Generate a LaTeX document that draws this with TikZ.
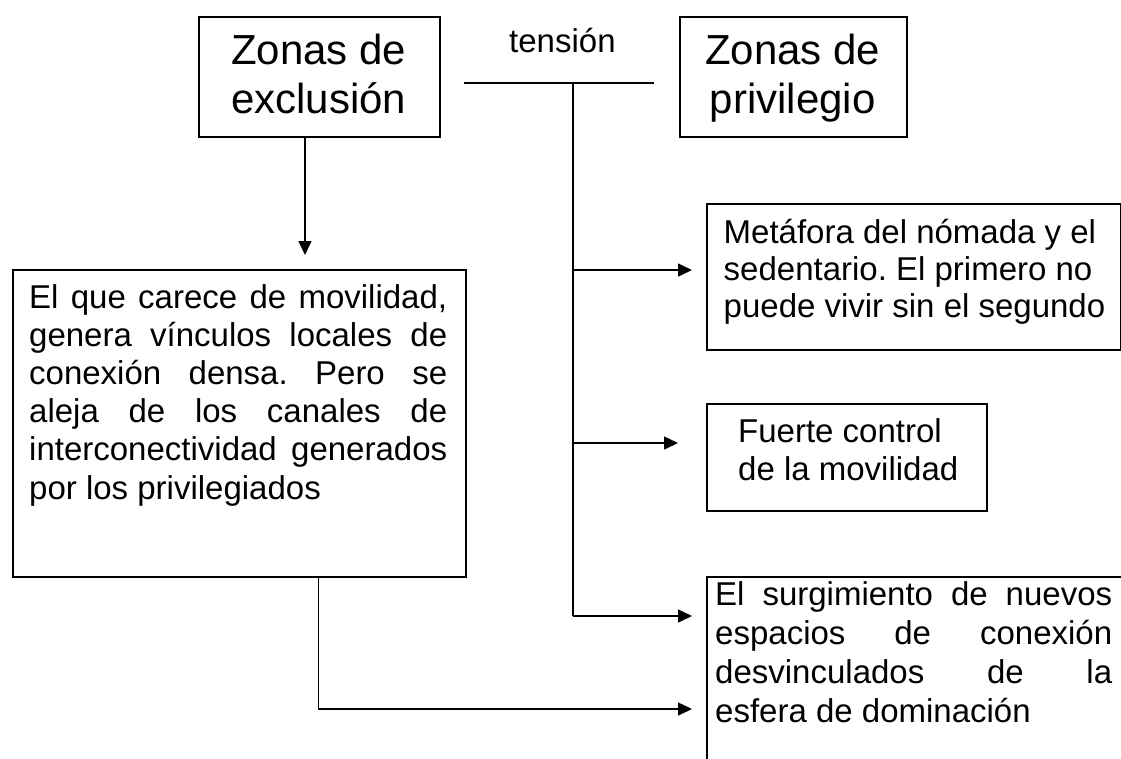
\documentclass[tikz,border=0pt]{standalone}
\usepackage{fontspec}
\setmainfont{Liberation Sans}
\usetikzlibrary{arrows.meta}
\frenchspacing
\tikzset{
  boxst/.style={draw=black, line width=1.8pt, inner sep=0pt, anchor=north west},
  conn/.style={line width=1.5pt, draw=black},
  arr/.style={conn, -{Triangle[length=14pt,width=13pt]}},
  txt/.style={inner sep=0pt, anchor=base west, font=\fontsize{33}{38.2}\selectfont},
  bigtxt/.style={txt, font=\fontsize{42}{49}\selectfont},
}
\begin{document}
\begin{tikzpicture}[x=1pt,y=-1pt]
\useasboundingbox (0,0) rectangle (1121,758);
\clip (0,0) rectangle (1121,758);
\tolerance=10000 \hyphenpenalty=10000 \exhyphenpenalty=10000
% boxes
\node[boxst, minimum width=241pt, minimum height=120pt] (zexcl) at (198,16) {};
\node[boxst, minimum width=227pt, minimum height=120pt] (zpriv) at (679,16) {};
\node[boxst, minimum width=453pt, minimum height=307pt] (excl) at (12,269) {};
\node[boxst, minimum width=414pt, minimum height=146pt] (meta) at (706,203) {};
\node[boxst, minimum width=280pt, minimum height=107pt] (fuerte) at (706,403) {};
\node[boxst, minimum width=460pt, minimum height=230pt] (surg) at (706,576) {};
% texts
\node[bigtxt] (zexclt) at (198,64) {\parbox[t]{241pt}{\centering Zonas de\\exclusión}};
\node[bigtxt] (zprivt) at (679,64) {\parbox[t]{227pt}{\centering Zonas de\\privilegio}};
\node[txt] (tens) at (509,52) {tensión};
\node[txt] (exclt) at (29,308) {\parbox[t]{418pt}{\frenchspacing El que carece de movilidad,\linebreak genera vínculos locales de\linebreak conexión densa. Pero se\linebreak aleja de los canales de\linebreak interconectividad generados\linebreak por los privilegiados}};
\node[txt, font=\fontsize{33}{37}\selectfont] (metat) at (723.5,243) {\parbox[t]{395pt}{\frenchspacing\raggedright Metáfora del nómada y el\\sedentario. El primero no\\puede vivir sin el segundo}};
\node[txt] (fuertet) at (738,442) {\parbox[t]{240pt}{\raggedright Fuerte control\\de la movilidad}};
\node[txt, font=\fontsize{33}{39}\selectfont] (surgt) at (715,605) {\parbox[t]{397pt}{El surgimiento de nuevos\linebreak espacios de conexión\linebreak desvinculados de la\linebreak esfera de dominación}};
% connectors
\coordinate (a1) at (305,255);
\draw[arr] (zexcl.south -| a1) -- (a1);
\coordinate (tl) at (464,83);
\coordinate (tr) at (654,83);
\draw[conn, line width=1.8pt] (tl) -- (tr);
\coordinate (vtop) at (573,83);
\coordinate (v3) at (573,616);
\draw[conn] (vtop) -- (v3);
\coordinate (t1) at (692,270);
\coordinate (t2) at (678,443);
\coordinate (t3) at (692,616);
\draw[arr] (vtop |- t1) -- (t1);
\draw[arr] (vtop |- t2) -- (t2);
\draw[arr] (v3) -- (t3);
\coordinate (b0) at (318.6,576);
\coordinate (t4) at (692,709);
\draw[arr] (b0) |- (t4);
\end{tikzpicture}
\end{document}
